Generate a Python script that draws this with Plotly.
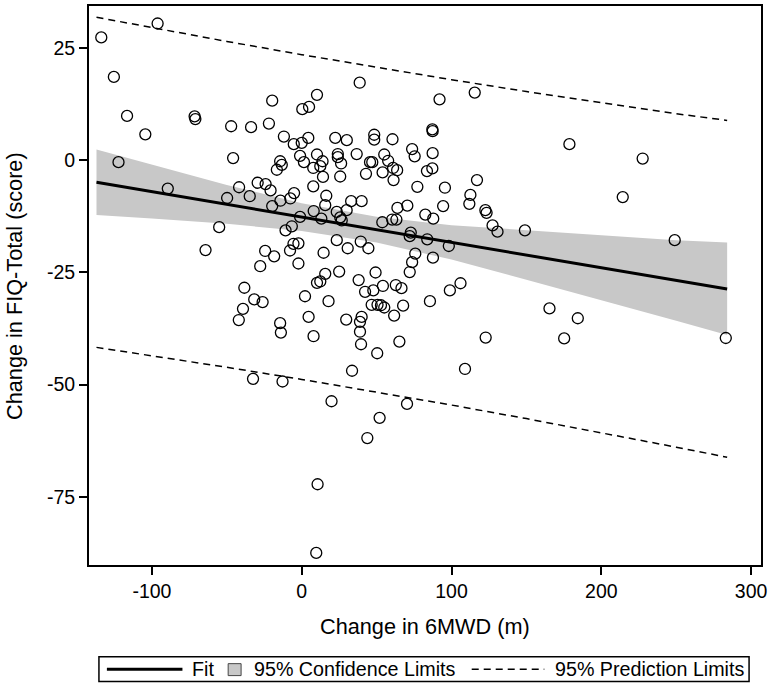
import plotly.graph_objects as go

# ---- data ----
change_6mwd = [
    -133.8, -96.2, -125.4, -116.6, -71.5, -71.0, -104.4, -47.1, -33.8, -19.7,
    -21.9, -11.9, 0.4, 4.9, 10.2, -5.3, 0.0, 4.4, 10.2, -1.1,
    1.5, 7.7, -14.4, -13.3, -16.6, -45.8, -122.3, -89.4, -41.8, -29.4,
    -24.1, -20.8, -5.1, 7.7, -49.8, -34.7, -14.2, -7.6,
    -19.7, 8.0, -1.1, -55.1, -10.8, -6.6, -64.2, -24.4, -18.4, -27.7,
    -7.8, -5.5, -2.2, -2.2, 10.2, -38.3, -31.7, -26.1, -39.2, -42.0,
    -14.4, -13.9, 2.2, 4.6, 7.9, -32.5, -12.8,
    38.7, 92.0, 115.5, 87.2, 87.4, 22.4, 30.1, 48.4, 48.4, 60.6,
    73.7, 75.4, 87.4, 13.9, 12.4, 24.1, 24.1, 26.3, 36.7, 45.6,
    47.1, 55.1, 57.7, 61.0, 63.7, 54.0, 61.3, 83.6, 87.2, 42.9,
    25.7, 14.2, 16.4, 77.2, 95.6, 117.0, 112.6, 33.0, 40.0,
    15.7, 13.1, 23.4, 30.0, 25.7, 26.7, 63.9, 70.5, 60.4, 63.2,
    53.8, 94.4, 82.5, 87.8, 111.9, 122.6, 123.4, 127.4, 130.7, 149.0,
    72.8, 72.1, 83.8, 98.2, 23.4, 39.4, 44.5, 30.7, 14.6, 75.8,
    73.7, 87.6, 72.1, 15.7, 12.4, 25.0, 49.3, 38.0, 54.2, 62.8,
    66.6, 42.3, 47.8, 98.9, 106.0, 17.9, 46.7, 50.6, 52.9, 55.1,
    67.7, 85.6, 29.7, 40.0, 38.9, 38.9, 61.7, 39.6, 50.4, 65.2,
    122.8, 33.6, 109.0,
    214.3, 249.0, 165.4, 184.3, 175.2, 283.1, 178.7, 227.6,
    19.9, 70.3, 52.0, 43.8, 10.6, 9.7,
]
change_fiq = [
    27.4, 30.5, 18.6, 9.9, 9.8, 9.2, 5.8, 7.6, 7.4, 13.3,
    8.2, 5.3, 11.4, 11.9, 14.6, 3.6, 3.9, 5.0, 1.3, 1.0,
    -0.4, -1.7, -0.2, -1.0, -2.1, 0.5, -0.4, -6.3, -6.0, -5.0,
    -5.3, -6.7, -7.3, -5.8, -8.4, -8.0, -9.0, -8.5,
    -10.2, -11.3, -12.6, -14.9, -15.6, -14.7, -20.0, -20.2, -21.4, -23.6,
    -20.1, -18.6, -18.5, -23.0, -27.3, -28.4, -31.0, -31.6, -33.1, -35.6,
    -36.3, -38.4, -30.3, -34.9, -39.2, -48.7, -49.3,
    17.3, 13.6, 15.1, 6.9, 6.5, 5.0, 4.5, 5.7, 4.6, 4.7,
    2.5, 0.9, 1.6, -0.2, -1.3, 1.4, 0.7, -0.7, 1.4, -0.4,
    -0.4, 1.3, -0.1, -1.7, -2.2, -2.7, -4.4, -2.4, -1.8, -3.0,
    -3.6, -3.7, -7.9, -5.9, -6.1, -4.4, -7.7, -9.1, -9.1,
    -10.0, -13.0, -11.5, -11.1, -12.7, -13.4, -10.6, -10.1, -13.2, -13.2,
    -13.8, -10.2, -12.1, -13.0, -9.7, -11.1, -11.7, -14.5, -15.9, -15.6,
    -16.1, -16.9, -17.6, -19.1, -17.8, -18.1, -19.6, -19.6, -20.6, -20.8,
    -22.7, -21.7, -24.9, -25.3, -27.0, -24.8, -25.0, -26.7, -28.0, -27.8,
    -28.5, -29.3, -29.0, -29.0, -27.4, -31.4, -32.2, -32.2, -32.3, -32.8,
    -32.4, -31.4, -35.5, -34.9, -36.0, -38.2, -34.6, -41.0, -43.0, -40.4,
    -39.5, -46.9, -46.5,
    -8.2, -17.8, -33.0, -35.2, -39.7, -39.6, 3.6, 0.4,
    -53.7, -54.3, -57.4, -61.9, -72.2, -87.5,
]

# regression fit and limits, read at several x positions
band_x = [-137, -100, -50, 0, 50, 100, 150, 200, 250, 284]
fit_y = [-4.90, -6.99, -9.81, -12.64, -15.47, -18.29, -21.12, -23.95, -26.77, -28.69]
ci_lower = [-12.20, -12.97, -14.14, -15.74, -18.34, -22.12, -26.60, -31.10, -35.74, -38.95]
ci_upper = [2.40, -1.01, -5.48, -9.54, -12.60, -14.46, -15.60, -16.80, -17.80, -18.30]
pi_lower = [-41.69, -43.54, -46.13, -48.83, -51.64, -54.55, -57.57, -60.70, -63.93, -66.18]
pi_upper = [31.89, 29.56, 26.51, 23.55, 20.70, 17.97, 15.33, 12.80, 10.39, 8.90]

x_ticks = [-100, 0, 100, 200, 300]
y_ticks = [-75, -50, -25, 0, 25]
x_title = "Change in 6MWD (m)"
y_title = "Change in FIQ-Total (score)"
legend_labels = ["Fit", "95% Confidence Limits", "95% Prediction Limits"]

FONT = "Liberation Sans, Arial, sans-serif"
BAND = "rgb(200,200,200)"

# plot-area geometry (pixels)
W, H = 771, 686
L, R, T, B = 89, 6, 4, 121
PW, PH = W - L - R, H - T - B


def px_x(p):
    return (p - L) / PW


def px_y(p):
    return (H - B - p) / PH


fig = go.Figure()

# confidence band
fig.add_trace(go.Scatter(
    x=band_x + band_x[::-1], y=ci_upper + ci_lower[::-1],
    fill="toself", fillcolor=BAND, line=dict(width=0), mode="lines",
    hoverinfo="skip", showlegend=False))
# prediction limits
for arr in (pi_upper, pi_lower):
    fig.add_trace(go.Scatter(
        x=band_x, y=arr, mode="lines",
        line=dict(color="black", width=1.5, dash="7px,5px"),
        showlegend=False))
# fit line
fig.add_trace(go.Scatter(
    x=band_x, y=fit_y, mode="lines",
    line=dict(color="black", width=3), showlegend=False))
# data points
fig.add_trace(go.Scatter(
    x=change_6mwd, y=change_fiq, mode="markers",
    marker=dict(symbol="circle-open", size=11, color="black",
                line=dict(width=1.3, color="black")),
    showlegend=False))

axis_common = dict(
    showline=True, mirror=True, linecolor="black", linewidth=2,
    ticks="outside", ticklen=8, tickwidth=1.5, tickcolor="black",
    showgrid=False, zeroline=False, ticklabeloverflow="allow",
    tickfont=dict(family=FONT, size=19.5, color="black"),
)
fig.update_xaxes(range=[-142, 306.6], tickvals=x_ticks,
                 ticktext=[str(v) for v in x_ticks], **axis_common)
fig.update_yaxes(range=[-90.2, 34.4], tickvals=y_ticks,
                 ticktext=[str(v) for v in y_ticks], **axis_common)

annotations = [
    dict(text=x_title, x=0.5, y=px_y(627), xref="paper", yref="paper",
         xanchor="center", yanchor="middle", showarrow=False,
         font=dict(family=FONT, size=21.7, color="black")),
    dict(text=y_title, x=px_x(14), y=0.5, xref="paper", yref="paper",
         xanchor="center", yanchor="middle", textangle=-90, showarrow=False,
         font=dict(family=FONT, size=21.7, color="black")),
]
leg_y = 669.5
leg_text_x = [191, 253, 556]
for lab, tx in zip(legend_labels, leg_text_x):
    annotations.append(dict(
        text=lab, x=px_x(tx), y=px_y(leg_y), xref="paper", yref="paper",
        xanchor="left", yanchor="middle", showarrow=False,
        font=dict(family=FONT, size=19.7, color="black")))

shapes = [
    dict(type="rect", xref="paper", yref="paper",
         x0=px_x(99), x1=px_x(753), y0=px_y(682), y1=px_y(657),
         line=dict(color="black", width=1.5), fillcolor="white"),
    dict(type="line", xref="paper", yref="paper",
         x0=px_x(107), x1=px_x(183), y0=px_y(leg_y), y1=px_y(leg_y),
         line=dict(color="black", width=3)),
    dict(type="rect", xref="paper", yref="paper",
         x0=px_x(229), x1=px_x(242), y0=px_y(676), y1=px_y(664),
         line=dict(color="rgb(70,70,70)", width=1), fillcolor=BAND),
    dict(type="line", xref="paper", yref="paper",
         x0=px_x(474), x1=px_x(547), y0=px_y(leg_y), y1=px_y(leg_y),
         line=dict(color="black", width=1.5, dash="7px,5px")),
]

fig.update_layout(
    width=W, height=H, autosize=False,
    margin=dict(l=L, r=R, t=T, b=B, pad=0),
    plot_bgcolor="white", paper_bgcolor="white",
    font=dict(family=FONT, color="black"),
    annotations=annotations, shapes=shapes, showlegend=False,
)

fig.write_html(
    "out.html",
    config={"displayModeBar": False},
    post_script="document.body.style.margin='0';"
                "document.body.style.padding='0';"
                "document.body.style.overflow='hidden';",
)
